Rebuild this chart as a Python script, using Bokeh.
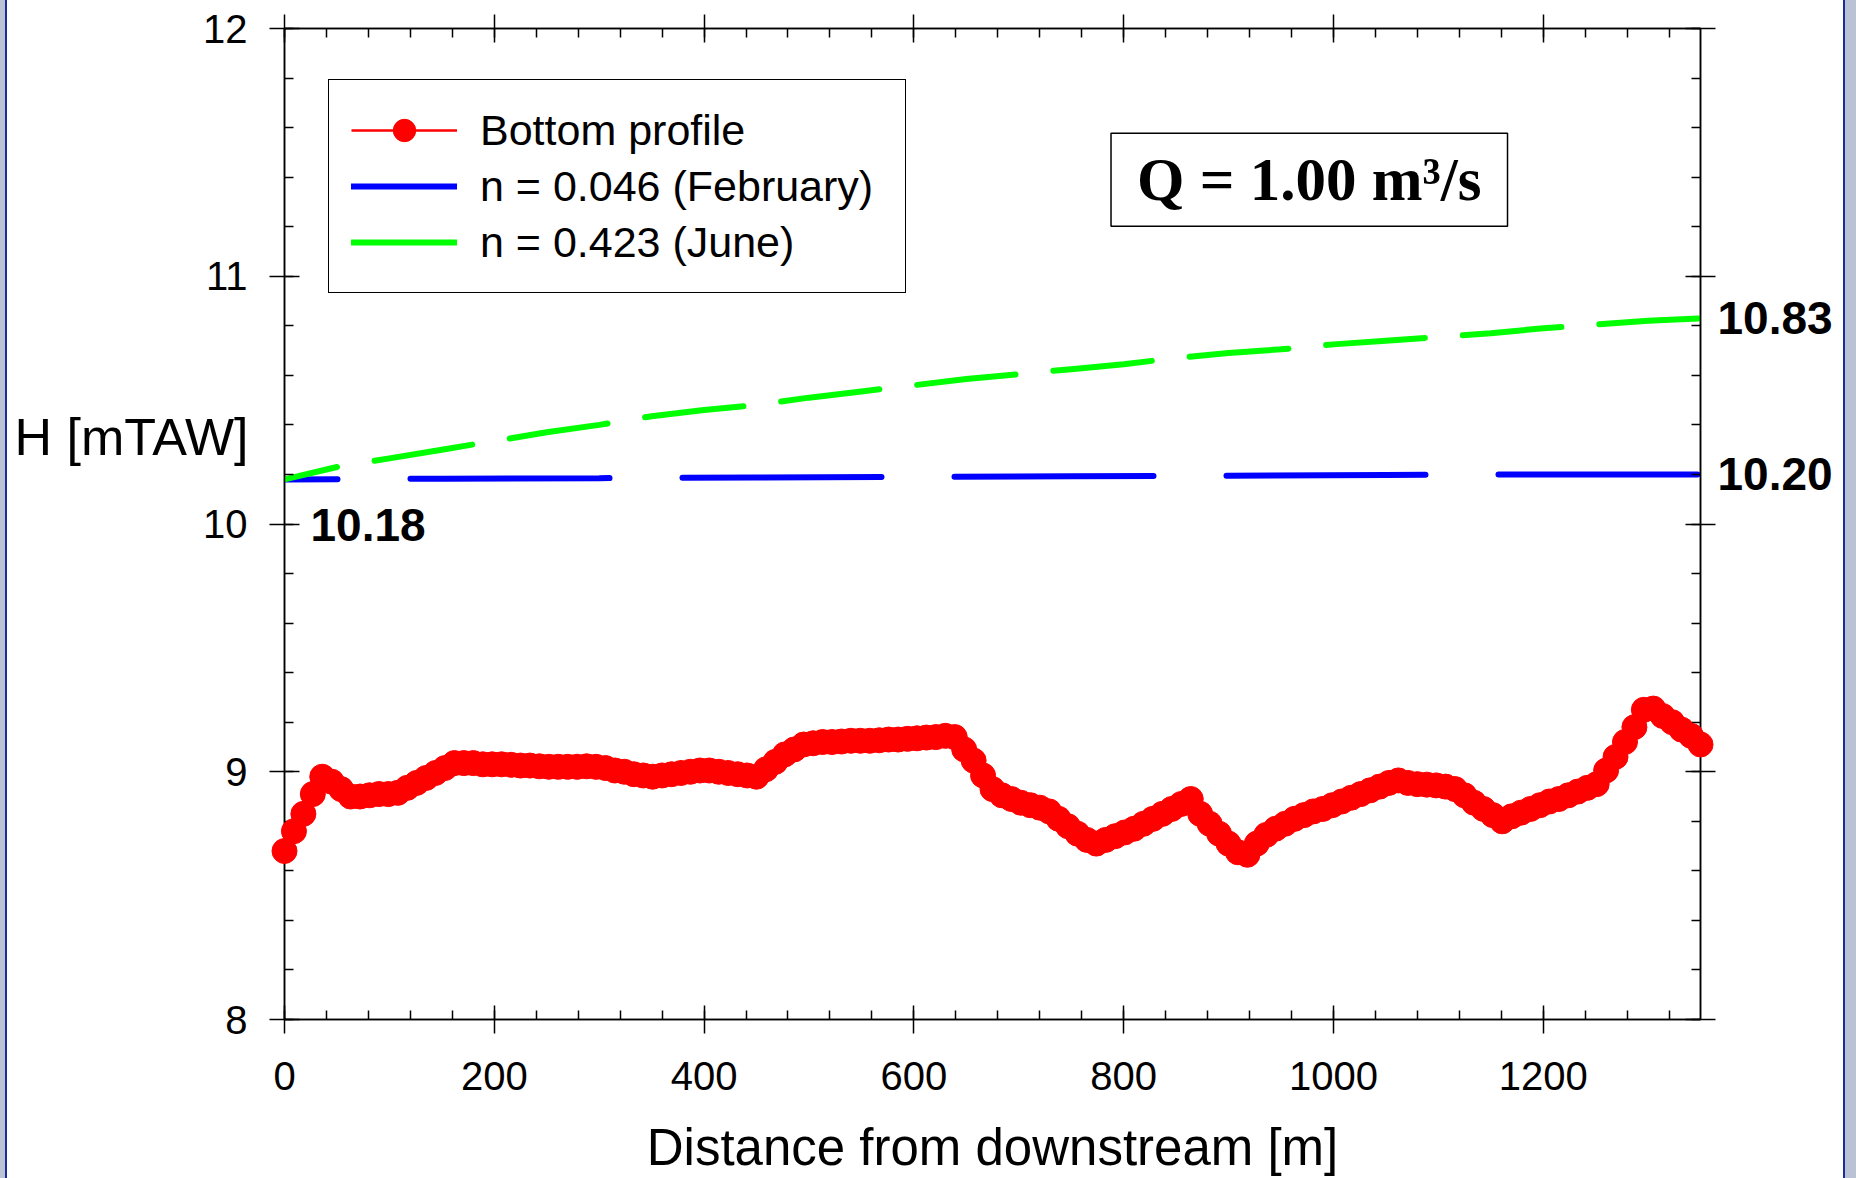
from bokeh.plotting import figure
from bokeh.models import (Range1d, SingleIntervalTicker, FixedTicker, LinearAxis,
                          Label, Legend, LegendItem, CustomJSTickFormatter,
                          PrintfTickFormatter)
from bokeh.embed import file_html
from bokeh.resources import INLINE

# Bottom profile along the reach: distance from downstream [m] and bed level H [mTAW]
bottom_x = [
    0, 9, 18, 27, 36, 45, 54, 63, 72, 81, 90, 99, 108, 117, 126, 135, 144, 153,
    162, 171, 180, 189, 198, 207, 216, 225, 234, 243, 252, 261, 270, 279, 288,
    297, 306, 315, 324, 333, 342, 351, 360, 369, 378, 387, 396, 405, 414, 423,
    432, 441, 450, 459, 468, 477, 486, 495, 504, 513, 522, 531, 540, 549, 558,
    567, 576, 585, 594, 603, 612, 621, 630, 639, 648, 657, 666, 675, 684, 693,
    702, 711, 720, 729, 738, 747, 756, 765, 774, 783, 792, 801, 810, 819, 828,
    837, 846, 855, 864, 873, 882, 891, 900, 909, 918, 927, 936, 945, 954, 963,
    972, 981, 990, 999, 1008, 1017, 1026, 1035, 1044, 1053, 1062, 1071, 1080,
    1089, 1098, 1107, 1116, 1125, 1134, 1143, 1152, 1161, 1170, 1179, 1188,
    1197, 1206, 1215, 1224, 1233, 1242, 1251, 1260, 1269, 1278, 1287, 1296,
    1305, 1314, 1323, 1332, 1341, 1350,
]
bottom_h = [
    8.68, 8.76, 8.83, 8.91, 8.98, 8.96, 8.93, 8.90, 8.90, 8.905, 8.91, 8.91,
    8.915, 8.935, 8.955, 8.975, 8.995, 9.015, 9.035, 9.035, 9.035, 9.03, 9.03,
    9.03, 9.028, 9.025, 9.025, 9.022, 9.02, 9.02, 9.02, 9.02, 9.022, 9.02,
    9.015, 9.005, 9.00, 8.99, 8.985, 8.98, 8.985, 8.99, 8.995, 9.00, 9.005,
    9.005, 9.00, 8.995, 8.99, 8.985, 8.98, 9.01, 9.04, 9.07, 9.09, 9.11, 9.115,
    9.12, 9.12, 9.122, 9.125, 9.125, 9.125, 9.127, 9.13, 9.13, 9.133, 9.135,
    9.138, 9.14, 9.145, 9.14, 9.09, 9.045, 8.985, 8.93, 8.905, 8.89, 8.875,
    8.865, 8.855, 8.84, 8.81, 8.78, 8.75, 8.725, 8.71, 8.725, 8.74, 8.755,
    8.77, 8.79, 8.81, 8.83, 8.85, 8.87, 8.89, 8.83, 8.79, 8.75, 8.71, 8.675,
    8.665, 8.71, 8.745, 8.77, 8.79, 8.81, 8.825, 8.84, 8.85, 8.865, 8.88,
    8.895, 8.91, 8.925, 8.94, 8.955, 8.965, 8.955, 8.95, 8.948, 8.945, 8.94,
    8.93, 8.905, 8.875, 8.85, 8.825, 8.80, 8.82, 8.835, 8.85, 8.865, 8.88,
    8.89, 8.905, 8.92, 8.935, 8.95, 9.005, 9.06, 9.12, 9.18, 9.25, 9.255,
    9.225, 9.20, 9.17, 9.145, 9.11,
]

# Computed water level, February roughness (n = 0.046)
feb_x = [0, 150, 300, 450, 600, 750, 900, 1050, 1200, 1350]
feb_h = [10.18, 10.183, 10.185, 10.188, 10.19, 10.193, 10.195, 10.198, 10.20, 10.20]

# Computed water level, June roughness (n = 0.423)
jun_x = [0, 50, 100, 150, 200, 250, 300, 350, 400, 450, 500, 550, 600, 650,
         700, 750, 800, 850, 900, 950, 1000, 1050, 1100, 1150, 1200, 1250,
         1300, 1350]
jun_h = [10.18, 10.23, 10.265, 10.30, 10.335, 10.37, 10.40, 10.435, 10.46,
         10.48, 10.51, 10.535, 10.56, 10.585, 10.605, 10.625, 10.645, 10.67,
         10.69, 10.705, 10.725, 10.74, 10.755, 10.77, 10.79, 10.805, 10.82,
         10.83]

x_ticks_step = 200
y_ticks_step = 1
x_start, x_end = 0, 1350
y_start, y_end = 8, 12
y_title_at = 10.35

SANS = "Liberation Sans"
SERIF = "Liberation Serif"
NAN = float("nan")

p = figure(width=1856, height=1178,
           x_range=Range1d(x_start, x_end), y_range=Range1d(y_start, y_end),
           output_backend="svg", toolbar_location=None,
           min_border_left=284, min_border_right=156,
           min_border_top=28, min_border_bottom=157)

p.border_fill_color = None
p.background_fill_color = "white"
p.styles = {
    "background": "linear-gradient(to right, #b9c3d3 0px, #b9c3d3 5px, "
                  "#1c2c9c 5px, #1c2c9c 7px, #ffffff 7px, #ffffff 1843px, "
                  "#1c2c9c 1843px, #1c2c9c 1845px, #b9c3d3 1845px)"
}
p.xgrid.visible = False
p.ygrid.visible = False
p.outline_line_color = "black"
p.outline_line_width = 1.5

def style_axis(ax, ticker, tick_in, tick_out, labels=True):
    ax.ticker = ticker
    ax.axis_line_color = "black"
    ax.axis_line_width = 1.5
    ax.major_tick_line_color = "black"
    ax.major_tick_line_width = 1.5
    ax.minor_tick_line_color = "black"
    ax.minor_tick_line_width = 1.5
    ax.major_tick_in = tick_in
    ax.major_tick_out = tick_out
    ax.minor_tick_in = 9
    ax.minor_tick_out = 0
    if labels:
        ax.major_label_text_font = SANS
        ax.major_label_text_font_size = "40px"
        ax.major_label_text_color = "black"
    else:
        ax.formatter = CustomJSTickFormatter(code="return ''")
        ax.major_label_text_font_size = "0px"
        ax.major_label_standoff = 0

def text_only_axis(ticker, formatter, size, bold, standoff):
    ax = LinearAxis(ticker=ticker, formatter=formatter)
    ax.axis_line_color = None
    ax.major_tick_in = ax.major_tick_out = 0
    ax.minor_tick_in = ax.minor_tick_out = 0
    ax.major_label_standoff = standoff
    ax.major_label_text_font = SANS
    ax.major_label_text_font_size = size
    ax.major_label_text_font_style = "bold" if bold else "normal"
    ax.major_label_text_color = "black"
    return ax

xt = lambda: SingleIntervalTicker(interval=x_ticks_step, num_minor_ticks=5)
yt = lambda: SingleIntervalTicker(interval=y_ticks_step, num_minor_ticks=5)

xax = p.xaxis[0]
style_axis(xax, xt(), 14, 14)
xax.major_label_standoff = 28
xax.axis_label = "Distance from downstream [m]"
xax.axis_label_text_font = SANS
xax.axis_label_text_font_size = "51px"
xax.axis_label_text_font_style = "normal"
xax.axis_label_text_color = "black"
xax.axis_label_standoff = 26

yax = p.yaxis[0]
style_axis(yax, yt(), 15, 15)
yax.major_label_standoff = 22

# Horizontal y title, right-aligned with the tick numbers
y_title = text_only_axis(FixedTicker(ticks=[y_title_at]),
                         CustomJSTickFormatter(code="return 'H [mTAW]'"),
                         "52px", False, -48)
p.add_layout(y_title, "left")

top = LinearAxis()
style_axis(top, xt(), 14, 14, labels=False)
p.add_layout(top, "above")
right = LinearAxis()
style_axis(right, yt(), 15, 15, labels=False)
p.add_layout(right, "right")

# End values of the two water levels, written beside the right frame
end_vals = text_only_axis(FixedTicker(ticks=[feb_h[-1], jun_h[-1]]),
                          PrintfTickFormatter(format="%.2f"), "46px", True, 2)
p.add_layout(end_vals, "right")

# Water levels (dashed) and the bed profile
p.line(feb_x, feb_h, line_color="#0000ff", line_width=6, line_cap="round",
       line_dash="199 73", line_dash_offset=146)
p.line(jun_x, jun_h, line_color="#00ff00", line_width=6, line_cap="round",
       line_dash="99 38", line_dash_offset=45)
p.line(bottom_x, bottom_h, line_color="#ff0000", line_width=2)
p.scatter(bottom_x, bottom_h, size=25, marker="circle",
          fill_color="#ff0000", line_color="#ff0000", level="overlay")

# Legend swatches drawn solid (no visible points in the frame)
lg_bed_line = p.line([NAN], [NAN], line_color="#ff0000", line_width=2.5)
lg_bed_dot = p.scatter([NAN], [NAN], marker="circle", fill_color="#ff0000",
                       line_color="#ff0000")
lg_feb = p.line([NAN], [NAN], line_color="#0000ff", line_width=6, line_cap="round")
lg_jun = p.line([NAN], [NAN], line_color="#00ff00", line_width=6, line_cap="round")

legend = Legend(items=[
    LegendItem(label="Bottom profile", renderers=[lg_bed_line, lg_bed_dot]),
    LegendItem(label="n = 0.046 (February)", renderers=[lg_feb]),
    LegendItem(label="n = 0.423 (June)", renderers=[lg_jun]),
], location=(44, 726))
legend.label_text_font = SANS
legend.label_text_font_size = "43px"
legend.label_text_color = "black"
legend.glyph_width = 106
legend.glyph_height = 56
legend.label_height = 40
legend.label_width = 403
legend.label_standoff = 23
legend.padding = 22
legend.spacing = 0
legend.margin = 0
legend.border_line_color = "black"
legend.border_line_alpha = 1
legend.border_line_width = 1.5
legend.background_fill_color = "white"
legend.background_fill_alpha = 1
p.add_layout(legend)

# Start value shared by both water levels
p.add_layout(Label(x=feb_x[0], y=feb_h[0], text=f"{feb_h[0]:.2f}",
                   x_offset=26, y_offset=-46, text_font=SANS,
                   text_font_size="46px", text_font_style="bold",
                   text_baseline="middle", text_align="left",
                   text_color="black"))

# Discharge box
p.add_layout(Label(x=977, y=11.39, text="Q = 1.00 m\u00b3/s", text_font=SERIF,
                   text_font_size="61px", text_font_style="bold",
                   text_align="center", text_baseline="middle",
                   text_color="black", border_line_color="black",
                   border_line_width=1.5, background_fill_color="white",
                   padding=dict(left=26, right=26, top=13, bottom=13)))

open("out.html", "w").write(file_html(p, INLINE))
